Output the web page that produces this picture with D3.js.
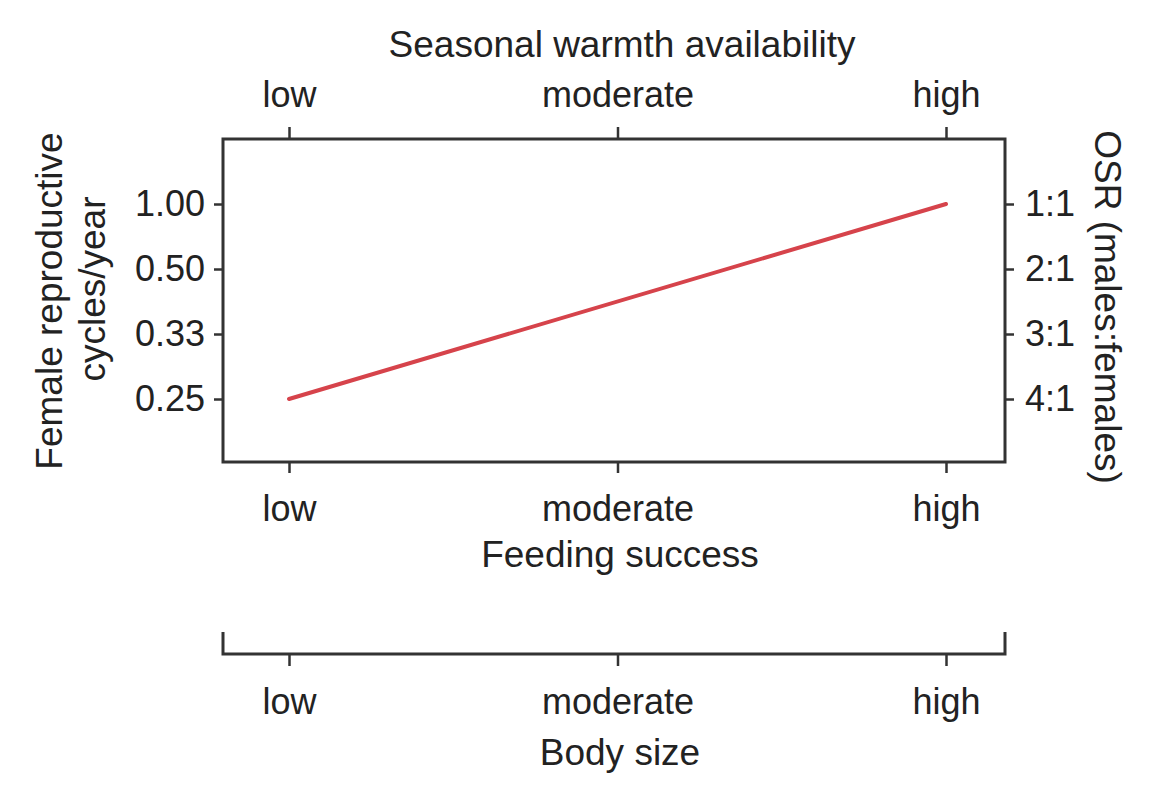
<!DOCTYPE html>
<html>
<head>
<meta charset="utf-8">
<script src="https://cdn.jsdelivr.net/npm/d3@7/dist/d3.min.js"></script>
<style>
  html, body { margin: 0; padding: 0; background: #fff; }
  text { font-family: "Liberation Sans", Arial, Helvetica, sans-serif; fill: #222; }
</style>
</head>
<body>
<svg id="chart" width="1158" height="808"></svg>
<script>
// ---- data ----
const levelLabels = ["low", "moderate", "high"];           // shared x categories
const cycleTickLabels = ["0.25", "0.33", "0.50", "1.00"];  // left axis (bottom->top)
const osrTickLabels = ["4:1", "3:1", "2:1", "1:1"];        // right axis (bottom->top)
const lineLevels = ["low", "high"];                        // feeding success
const lineCycles = ["0.25", "1.00"];                       // female cycles/year

const titleTop = "Seasonal warmth availability";
const titleBottom = "Feeding success";
const titleBody = "Body size";
const titleLeft = ["Female reproductive", "cycles/year"];
const titleRight = "OSR (males:females)";

// ---- layout ----
const svg = d3.select("#chart");
const box = { left: 223, right: 1005, top: 139, bottom: 462 };
const fs = 36;

const x = d3.scaleLinear().domain([0, levelLabels.length - 1]).range([289, 946]);
const y = d3.scaleLinear().domain([0, cycleTickLabels.length - 1]).range([399, 204]);
const xi = l => levelLabels.indexOf(l);
const yi = v => cycleTickLabels.indexOf(v);

const stroke = "#333";

// plot box
svg.append("rect")
  .attr("x", box.left).attr("y", box.top)
  .attr("width", box.right - box.left).attr("height", box.bottom - box.top)
  .attr("fill", "none").attr("stroke", stroke).attr("stroke-width", 3);

function styleAxis(g) {
  g.select(".domain").remove();
  g.selectAll(".tick line").attr("stroke", stroke).attr("stroke-width", 2.5);
  g.selectAll(".tick text").style("font-size", fs + "px").attr("fill", "#222")
    .style("font-family", '"Liberation Sans", Arial, sans-serif');
}

// top axis
const gTop = svg.append("g").attr("transform", `translate(0,${box.top})`)
  .call(d3.axisTop(x).tickValues(d3.range(levelLabels.length))
    .tickFormat(i => levelLabels[i]).tickSize(12));
styleAxis(gTop);
gTop.selectAll(".tick text").attr("y", -32).attr("dy", 0);

// bottom axis
const gBot = svg.append("g").attr("transform", `translate(0,${box.bottom})`)
  .call(d3.axisBottom(x).tickValues(d3.range(levelLabels.length))
    .tickFormat(i => levelLabels[i]).tickSize(11));
styleAxis(gBot);
gBot.selectAll(".tick text").attr("y", 59).attr("dy", 0);

// left axis
const gLeft = svg.append("g").attr("transform", `translate(${box.left},0)`)
  .call(d3.axisLeft(y).tickValues(d3.range(cycleTickLabels.length))
    .tickFormat(i => cycleTickLabels[i]).tickSize(9).tickPadding(9));
styleAxis(gLeft);

// right axis
const gRight = svg.append("g").attr("transform", `translate(${box.right},0)`)
  .call(d3.axisRight(y).tickValues(d3.range(osrTickLabels.length))
    .tickFormat(i => osrTickLabels[i]).tickSize(9).tickPadding(11));
styleAxis(gRight);

// body size axis
const bodyY = 654;
svg.append("path")
  .attr("d", `M${box.left},${bodyY - 22}V${bodyY}H${box.right}V${bodyY - 22}`)
  .attr("fill", "none").attr("stroke", stroke).attr("stroke-width", 3);
const gBody = svg.append("g").attr("transform", `translate(0,${bodyY})`)
  .call(d3.axisBottom(x).tickValues(d3.range(levelLabels.length))
    .tickFormat(i => levelLabels[i]).tickSize(12));
styleAxis(gBody);
gBody.selectAll(".tick text").attr("y", 60).attr("dy", 0);

// data line
const line = d3.line().x(d => x(xi(d[0]))).y(d => y(yi(d[1])));
svg.append("path")
  .datum(d3.zip(lineLevels, lineCycles))
  .attr("d", line)
  .attr("fill", "none").attr("stroke", "#d6434b").attr("stroke-width", 4)
  .attr("stroke-linecap", "round");

// titles
function addText(t, xx, yy, rot) {
  const el = svg.append("text").text(t)
    .attr("text-anchor", "middle").style("font-size", (fs + 1) + "px");
  if (rot) el.attr("transform", `translate(${xx},${yy}) rotate(${rot})`);
  else el.attr("x", xx).attr("y", yy);
  return el;
}
addText(titleTop, 622, 57);
addText(titleBottom, 620, 567);
addText(titleBody, 620, 765);
addText(titleLeft[0], 62, 301, -90);
addText(titleLeft[1], 105, 289, -90);
addText(titleRight, 1095, 307, 90);
</script>
</body>
</html>
